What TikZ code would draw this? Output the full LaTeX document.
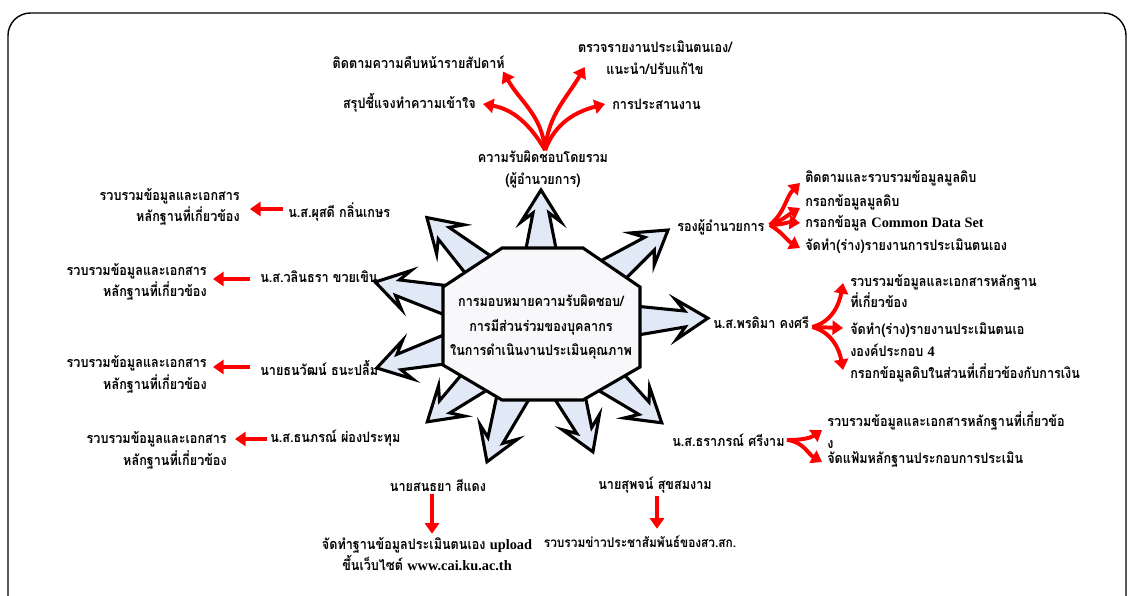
\documentclass[tikz,border=0pt]{standalone}
\usepackage{fontspec}
\usepackage{tikz}
\usetikzlibrary{arrows.meta}
\newfontfamily\thaifont[Script=Thai, FakeStretch=0.88]{Loma}
\newfontfamily\latinfont{Liberation Serif}
\definecolor{arrowfill}{RGB}{226,233,246}
\definecolor{hubfill}{RGB}{248,248,250}

\begin{document}
\begin{tikzpicture}[
			x=0.025cm, y=-0.025cm,
			txt/.style={font=\thaifont\bfseries\fontsize{10.2}{15.5}\selectfont, inner sep=0pt},
			redarrow/.style={draw=red, line width=2.8pt, -{Triangle[length=7.5pt,width=10pt]}},
			blockarrow/.style={draw=black, line width=2.2pt, fill=arrowfill, line join=miter},
			hub/.style={draw=black, line width=2.2pt, fill=hubfill, line join=miter},
			]
			\useasboundingbox (0,0) rectangle (1128,596);
			%Frame
				\draw[line width=1pt, rounded corners=16pt] (8,620) -- (8,13) -- (1126,13) -- (1126,620);

			%Block arrows round the hub
				\foreach \ang/\len in {90/134, 36.5/158, 2/167, -39.3/156, -67.9/138, -111.4/148, -139.3/150, -165/170, 165.8/171, 137/156}
					\draw[blockarrow, shift={(541,324)}, rotate=\ang]
						(40,-22) -- (\len-23,-8) -- (\len-32,-20) -- (\len,0) -- (\len-32,20) -- (\len-23,8) -- (40,22) -- cycle;

			%Hub
				\draw[hub] (502,248) -- (583,248) -- (640,287) -- (640,367) -- (583,400) -- (502,400) -- (443,365) -- (443,287) -- cycle;
				\node[txt, align=center, font=\thaifont\bfseries\fontsize{10.2}{17.5}\selectfont]	(hub)	at (541,327)	{การมอบหมายความรับผิดชอบ/\\การมีส่วนร่วมของบุคลากร\\ในการดำเนินงานประเมินคุณภาพ};

			%Nodes
				% top
				\node[txt, align=center]	(duty)		at (543,169)	{ความรับผิดชอบโดยรวม\\(ผู้อำนวยการ)};
				\node[txt, anchor=east]		(weekly)	at (505,62)		{ติดตามความคืบหน้ารายสัปดาห์};
				\node[txt, anchor=east]		(explain)	at (476,103)	{สรุปชี้แจงทำความเข้าใจ};
				\node[txt, align=center]	(review)	at (655,58)		{ตรวจรายงานประเมินตนเอง/\\แนะนำ/ปรับแก้ไข};
				\node[txt, anchor=west]		(coord)		at (612,104)	{การประสานงาน};
				% left
				\node[txt, anchor=west]		(pussadee)	at (288,212)	{น.ส.ผุสดี กลิ่นเกษร};
				\node[txt, anchor=east, align=right]	(task1)	at (240,207)	{รวบรวมข้อมูลและเอกสาร\\หลักฐานที่เกี่ยวข้อง};
				\node[txt, anchor=west]		(walin)		at (260,277)	{น.ส.วลินธรา ขวยเขิน};
				\node[txt, anchor=east, align=right]	(task2)	at (207,282)	{รวบรวมข้อมูลและเอกสาร\\หลักฐานที่เกี่ยวข้อง};
				\node[txt, anchor=west]		(thanawat)	at (260,368)	{นายธนวัฒน์ ธนะปลื้ม};
				\node[txt, anchor=east, align=right]	(task3)	at (207,374)	{รวบรวมข้อมูลและเอกสาร\\หลักฐานที่เกี่ยวข้อง};
				\node[txt, anchor=west]		(thanaporn)	at (270,438)	{น.ส.ธนภรณ์ ผ่องประทุม};
				\node[txt, anchor=east, align=right]	(task4)	at (227,450)	{รวบรวมข้อมูลและเอกสาร\\หลักฐานที่เกี่ยวข้อง};
				% bottom
				\node[txt]					(sontaya)	at (438,485)	{นายสนธยา สีแดง};
				\node[txt, align=center]	(upload)	at (427,554)	{จัดทำฐานข้อมูลประเมินตนเอง {\latinfont upload}\\ขึ้นเว็บไซต์ {\latinfont www.cai.ku.ac.th}};
				\node[txt]					(supot)		at (655,485)	{นายสุพจน์ สุขสมงาม};
				\node[txt, font=\thaifont\bfseries\fontsize{9.6}{15.5}\selectfont]	(news)	at (640,542)	{รวบรวมข่าวประชาสัมพันธ์ของสว.สก.};
				% right
				\node[txt, anchor=west]		(deputy)	at (677,227)	{รองผู้อำนวยการ};
				\node[txt, anchor=west]		(dep1)		at (805,178)	{ติดตามและรวบรวมข้อมูลมูลดิบ};
				\node[txt, anchor=west]		(dep2)		at (805,202)	{กรอกข้อมูลมูลดิบ};
				\node[txt, anchor=west]		(dep3)		at (805,223)	{กรอกข้อมูล {\latinfont Common Data Set}};
				\node[txt, anchor=west]		(dep4)		at (805,246)	{จัดทำ(ร่าง)รายงานการประเมินตนเอง};
				\node[txt, anchor=west]		(pornd)		at (713,322)	{น.ส.พรดิมา คงศรี};
				\node[txt, anchor=west, align=left]	(porn1)	at (850,291)	{รวบรวมข้อมูลและเอกสารหลักฐาน\\ที่เกี่ยวข้อง};
				\node[txt, anchor=west, align=left]	(porn2)	at (850,340)	{จัดทำ(ร่าง)รายงานประเมินตนเอ\\งองค์ประกอบ {\latinfont 4}};
				\node[txt, anchor=west]		(porn3)		at (850,373)	{กรอกข้อมูลดิบในส่วนที่เกี่ยวข้องกับการเงิน};
				\node[txt, anchor=west]		(thara)		at (672,440)	{น.ส.ธราภรณ์ ศรีงาม};
				\node[txt, anchor=west, align=left]	(thara1)	at (827,430)	{รวบรวมข้อมูลและเอกสารหลักฐานที่เกี่ยวข้อ\\ง};
				\node[txt, anchor=west]		(thara2)	at (827,459)	{จัดแฟ้มหลักฐานประกอบการประเมิน};

			%Red arrows
				% top
				\draw[redarrow] ([xshift=1.5pt]duty.north) to[out=95, in=-60] ([shift={(-2,3)}]weekly.south east);
				\draw[redarrow] ([xshift=1.5pt]duty.north) to[out=120, in=-10] ([shift={(7,1)}]explain.east);
				\draw[redarrow] ([xshift=1.5pt]duty.north) to[out=85, in=-120] ([shift={(7,-8)}]review.south west);
				\draw[redarrow] ([xshift=1.5pt]duty.north) to[out=70, in=195] ([shift={(-7,0)}]coord.west);
				% left
				\draw[redarrow] ([shift={(-5,-3)}]pussadee.west) -- ([shift={(10,2)}]task1.east);
				\draw[redarrow] ([shift={(-10,2)}]walin.west) -- ([shift={(6,-3)}]task2.east);
				\draw[redarrow] ([shift={(-10,-1)}]thanawat.west) -- ([shift={(6,-7)}]task3.east);
				\draw[redarrow] ([shift={(-3,1)}]thanaporn.west) -- ([shift={(8,-11)}]task4.east);
				% bottom
				\draw[redarrow] ([shift={(-6,3)}]sontaya.south) -- ([shift={(5,-3)}]upload.north);
				\draw[redarrow] ([shift={(2,3)}]supot.south) -- ([shift={(17,-7)}]news.north);
				% right
				\draw[redarrow] ([shift={(5,-2)}]deputy.east) to[out=40, in=-135] ([shift={(-5,5)}]dep1.west);
				\draw[redarrow] ([shift={(5,-2)}]deputy.east) to[out=20, in=-150] ([shift={(-5,6)}]dep2.west);
				\draw[redarrow] ([shift={(5,-2)}]deputy.east) to[out=0, in=175] ([shift={(-5,0)}]dep3.west);
				\draw[redarrow] ([shift={(5,-2)}]deputy.east) to[out=-30, in=150] ([shift={(-5,2)}]dep4.west);
				\draw[redarrow] ([shift={(3,5)}]pornd.east) to[out=15, in=-100] ([shift={(-7,-8)}]porn1.west);
				\draw[redarrow] ([shift={(3,5)}]pornd.east) -- ([shift={(-7,-12)}]porn2.west);
				\draw[redarrow] ([shift={(3,5)}]pornd.east) to[out=-15, in=100] ([shift={(-7,-3)}]porn3.west);
				\draw[redarrow] ([shift={(2,0)}]thara.east) to[out=0, in=215] ([shift={(-5,0)}]thara1.west);
				\draw[redarrow] ([shift={(2,0)}]thara.east) to[out=-5, in=150] ([shift={(-5,3)}]thara2.west);
		\end{tikzpicture}
\end{document}
